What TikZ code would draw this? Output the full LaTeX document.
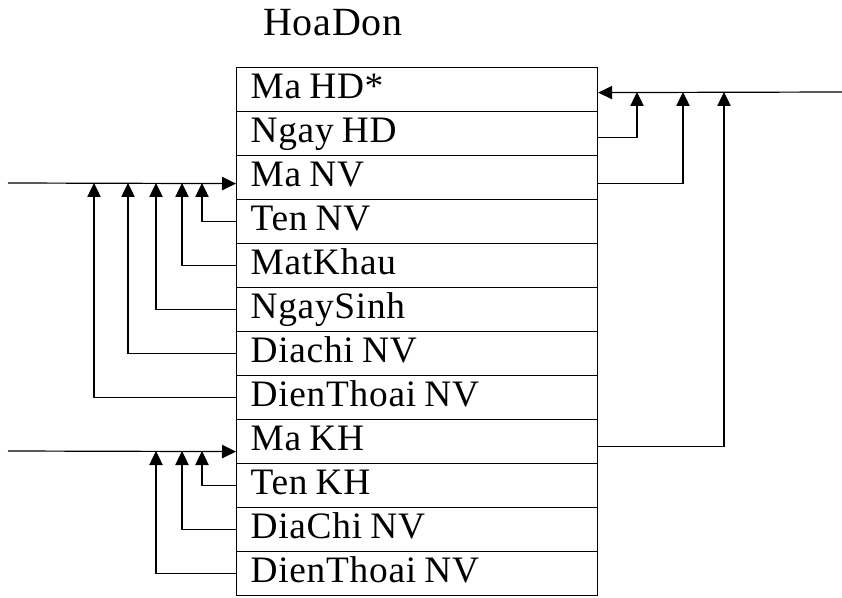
\documentclass[tikz,border=0pt]{standalone}
\usepackage{fontspec}
\setmainfont[LetterSpace=2]{Liberation Serif}
\usetikzlibrary{arrows.meta}
\newcommand\fieldfont{\fontsize{28}{30}\selectfont}
\newcommand\tightspaces{\spaceskip=0.22em\relax}
\begin{document}
\begin{tikzpicture}[x=0.75pt,y=-0.75pt,
  field/.style={draw, line width=0.9pt, anchor=north west, inner xsep=10.5pt, inner ysep=0pt,
    text width=249.75pt, align=left, text height=23.25pt, text depth=9.75pt,
    font=\fieldfont, execute at begin node=\tightspaces},
  link/.style={line width=0.9pt},
  arr/.style={link, -{Triangle[length=10.5pt,width=10pt]}}]
\useasboundingbox (0,0) rectangle (842,598);

% table title
\node[anchor=base west, inner sep=0pt, font=\fontsize{30}{32}\selectfont] (title) at (263,36) {HoaDon};

% table fields
\foreach \i/\t in {1/{Ma HD*}, 2/{Ngay HD}, 3/{Ma NV}, 4/{Ten NV}, 5/{MatKhau}, 6/{NgaySinh},
  7/{Diachi NV}, 8/{DienThoai NV}, 9/{Ma KH}, 10/{Ten KH}, 11/{DiaChi NV}, 12/{DienThoai NV}}
  \node[field] (r\i) at (236,{67+44*(\i-1)}) {\t};

% free ends and junctions
\coordinate (inNV) at (8,183);
\coordinate (inKH) at (8,451);
\coordinate (out) at (842,92);
\coordinate (a1) at (94,183);
\coordinate (a2) at (128,183);
\coordinate (a3) at (156,183);
\coordinate (a4) at (182,183);
\coordinate (a5) at (202,183);
\coordinate (k1) at (156,451);
\coordinate (k2) at (182,451);
\coordinate (k3) at (202,451);
\coordinate (b1) at (637,92);
\coordinate (b2) at (683,92);
\coordinate (b3) at (724,92);

% employee group
\draw[arr] (inNV) -- ([yshift=-4.5pt]r3.west);
\draw[arr] (r4.west) -| (a5);
\draw[arr] (r5.west) -| (a4);
\draw[arr] (r6.west) -| (a3);
\draw[arr] (r7.west) -| (a2);
\draw[arr] (r8.west) -| (a1);

% customer group
\draw[arr] (inKH) -- ([yshift=-7.5pt]r9.west);
\draw[arr] (r10.west) -| (k3);
\draw[arr] (r11.west) -| (k2);
\draw[arr] (r12.west) -| (k1);

% invoice key
\draw[arr] (out) -- ([yshift=-2.25pt]r1.east);
\draw[arr] ([yshift=-3pt]r2.east) -| (b1);
\draw[arr] ([yshift=-4.5pt]r3.east) -| (b2);
\draw[arr] ([yshift=-3.75pt]r9.east) -| (b3);
\end{tikzpicture}
\end{document}
